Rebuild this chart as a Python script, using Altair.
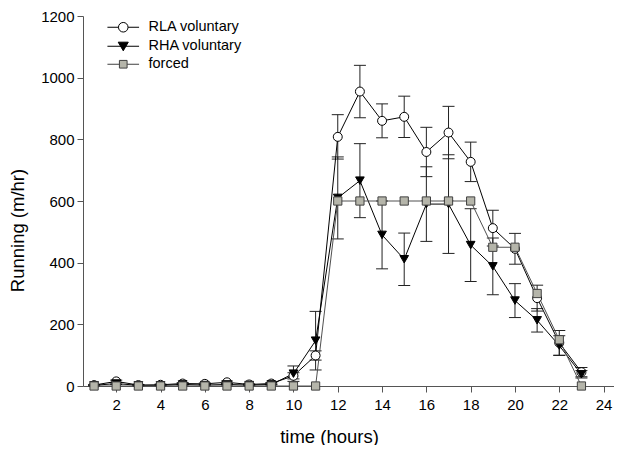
import altair as alt
import pandas as pd

hours = list(range(1, 24))
series_names = ["RLA voluntary", "RHA voluntary", "forced"]

rla = [3, 15, 3, 4, 8, 7, 12, 5, 8, 33, 99, 808, 955, 860, 873, 759, 822, 727, 512, 445, 285, 140, 45]
rla_sem = [2, 4, 2, 2, 3, 3, 4, 2, 3, 10, 15, 72, 85, 55, 67, 80, 85, 64, 58, 50, 42, 40, 15]
rha = [2, 8, 2, 2, 5, 3, 5, 3, 5, 40, 147, 610, 666, 490, 411, 590, 590, 457, 388, 277, 213, 131, 38]
rha_sem = [1, 3, 1, 1, 2, 2, 2, 1, 2, 25, 95, 133, 120, 110, 85, 121, 160, 118, 92, 55, 38, 32, 12]
forced = [0, 0, 0, 0, 0, 0, 0, 0, 0, 0, 0, 600, 600, 600, 600, 600, 600, 600, 450, 450, 300, 150, 0]

x_ticks = [2, 4, 6, 8, 10, 12, 14, 16, 18, 20, 22, 24]
y_ticks = [0, 200, 400, 600, 800, 1000, 1200]

FONT = "Liberation Sans"


def frame(vals, sems, name):
    return pd.DataFrame({
        "hour": hours,
        "value": vals,
        "lo": [v - s for v, s in zip(vals, sems)],
        "hi": [v + s for v, s in zip(vals, sems)],
        "series": name,
    })


df_rla = frame(rla, rla_sem, series_names[0])
df_rha = frame(rha, rha_sem, series_names[1])
df_forced = frame(forced, [0] * len(forced), series_names[2])

x_scale = alt.Scale(domain=[0.5, 24.47], nice=False, zero=False)
y_scale = alt.Scale(domain=[0, 1200], nice=False)

x_axis = alt.Axis(values=x_ticks, title="time (hours)", titleX=246, titleY=50,
                  titleBaseline="middle", titleAnchor="middle", format="d")
y_axis = alt.Axis(values=y_ticks, title="Running (m/hr)", titleAngle=270, titleX=-66,
                  titleY=214, titleBaseline="middle", format="d")

X = alt.X("hour:Q", scale=x_scale, axis=x_axis)


def Y(field):
    return alt.Y(f"{field}:Q", scale=y_scale, axis=y_axis)


def errors(df, color):
    base = alt.Chart(df)
    rule = base.mark_rule(color=color, strokeWidth=1).encode(x=X, y=Y("lo"), y2="hi:Q")
    cap_hi = base.mark_tick(orient="horizontal", size=12, thickness=1, color=color, opacity=1).encode(x=X, y=Y("hi"))
    cap_lo = base.mark_tick(orient="horizontal", size=12, thickness=1, color=color, opacity=1).encode(x=X, y=Y("lo"))
    return [rule, cap_hi, cap_lo]


def line(df, color):
    return alt.Chart(df).mark_line(color=color, strokeWidth=1).encode(x=X, y=Y("value"))


def points(df, shape, fill, stroke, size):
    return alt.Chart(df).mark_point(shape=shape, filled=True, fill=fill, stroke=stroke,
                                    strokeWidth=1, size=size, opacity=1).encode(x=X, y=Y("value"))


# legend symbols: line + marker, custom paths in unit coordinates
leg_paths = [
    "M-3.3,0L-1,0M1,0L3.3,0M-1,0A1,1,0,1,0,1,0A1,1,0,1,0,-1,0Z",
    "M-3.3,0L3.3,0M-1.05,-0.85L1.05,-0.85L0,0.95Z",
    "M-3.3,0L-0.8,0M0.8,0L3.3,0M-0.8,-0.8L0.8,-0.8L0.8,0.8L-0.8,0.8Z",
]
leg_fills = ["white", "black", "#b5b5aa"]
leg_strokes = ["black", "black", "#404040"]

legend = alt.Legend(title=None, orient="none", legendX=33, legendY=4, labelFont=FONT,
                    labelFontSize=14.5, labelColor="black", symbolSize=92, symbolStrokeWidth=1,
                    labelOffset=18, rowPadding=3, padding=0, symbolOpacity=1)

legend_df = pd.DataFrame({"hour": [1, 1, 1], "value": [0, 0, 0], "series": series_names})
legend_layer = alt.Chart(legend_df).transform_filter("datum.hour < 0").mark_point(
    filled=True, size=92, strokeWidth=1, opacity=1
).encode(
    x=X, y=Y("value"),
    shape=alt.Shape("series:N", scale=alt.Scale(domain=series_names, range=leg_paths), legend=legend),
    fill=alt.Fill("series:N", scale=alt.Scale(domain=series_names, range=leg_fills), legend=legend),
    stroke=alt.Stroke("series:N", scale=alt.Scale(domain=series_names, range=leg_strokes), legend=legend),
)

layers = []
layers += errors(df_rla, "#222222")
layers += errors(df_rha, "#222222")
layers.append(line(df_rla, "black"))
layers.append(line(df_rha, "black"))
layers.append(line(df_forced, "#505050"))
layers.append(points(df_rla, "circle", "white", "black", 80))
layers.append(points(df_rha, "triangle-down", "black", "black", 75))
layers.append(points(df_forced, "square", "#b5b5aa", "#404040", 68))
layers.append(legend_layer)

chart = alt.layer(*layers).properties(
    width=531, height=370,
    autosize=alt.AutoSizeParams(type="none"),
    padding={"left": 75, "top": 8, "right": 0, "bottom": 59},
).configure_view(stroke=None).configure_axis(
    grid=False, domainColor="#555555", tickColor="#555555", tickSize=6,
    labelFont=FONT, labelFontSize=15, labelColor="black",
    titleFont=FONT, titleFontSize=18.5, titleFontWeight="normal", titleColor="black",
).configure_axisX(labelPadding=5).configure_axisY(labelPadding=3)

chart.save("out.html", embed_options={"renderer": "svg", "actions": False})
